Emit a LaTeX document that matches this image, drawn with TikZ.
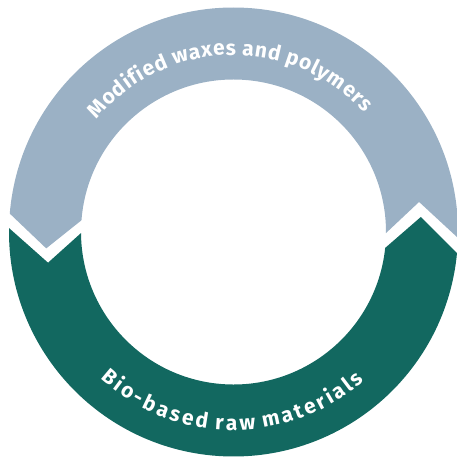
\documentclass[tikz,border=0pt]{standalone}
\usepackage{fontspec}
\setmainfont{Fira Sans}
\usetikzlibrary{calc,decorations.text}
\definecolor{ringgrey}{RGB}{155,177,197}
\definecolor{ringgreen}{RGB}{18,104,96}
\def\tk{\kern.8pt}
\def\bk{\kern2.7pt}
\begin{document}
\begin{tikzpicture}[x=1pt,y=1pt,
  bandtop/.style={fill=ringgrey},
  bandbottom/.style={fill=ringgreen},
  arclabel/.style={decorate,decoration={text along path,text align=center,text color=white}}]
\useasboundingbox (0,0) rectangle (457,457);
\coordinate (C) at (233.5,225);
\def\Ro{224.5}
\def\Ri{152.5}
\def\Rm{188}
% grey upper band, pointing down at the left
\fill[bandtop] ($(C)+(-1.5:\Ro)$) arc[start angle=-1.5,end angle=175.3,radius=\Ro]
  -- ($(C)+(185:\Rm)$) -- ($(C)+(175.6:\Ri)$)
  arc[start angle=175.6,end angle=-0.4,radius=\Ri]
  -- ($(C)+(9.2:\Rm)$) -- cycle;
% green lower band, pointing up at the right
\fill[bandbottom] ($(C)+(179:\Ro)$) arc[start angle=179,end angle=354.6,radius=\Ro]
  -- ($(C)+(4.6:\Rm)$) -- ($(C)+(-6:\Ri)$)
  arc[start angle=354,end angle=180.4,radius=\Ri]
  -- ($(C)+(189.4:\Rm)$) -- cycle;
% labels
\path[arclabel,decoration={text={|\fontsize{21}{25}\selectfont\bfseries|{M\tk}{o\tk}{d\tk}{i\tk}{f\tk}{i\tk}{e\tk}{d\tk} {w\tk}{a\tk}{x\tk}{e\tk}{s\tk} {a\tk}{n\tk}{d\tk} {p\tk}{o\tk}{l\tk}{y\tk}{m\tk}{e\tk}{r\tk}{s}}}]
  ($(C)+(171.5:177)$) arc[start angle=171.5,end angle=11.5,radius=177];
\path[arclabel,decoration={text={|\fontsize{21}{25}\selectfont\bfseries|{B\bk}{i\bk}{o\bk}{-\bk}{b\bk}{a\bk}{s\bk}{e\bk}{d\bk} {r\bk}{a\bk}{w\bk} {m\bk}{a\bk}{t\bk}{e\bk}{r\bk}{i\bk}{a\bk}{l\bk}{s}}}]
  ($(C)+(189.5:198)$) arc[start angle=189.5,end angle=349.5,radius=198];
\end{tikzpicture}
\end{document}
